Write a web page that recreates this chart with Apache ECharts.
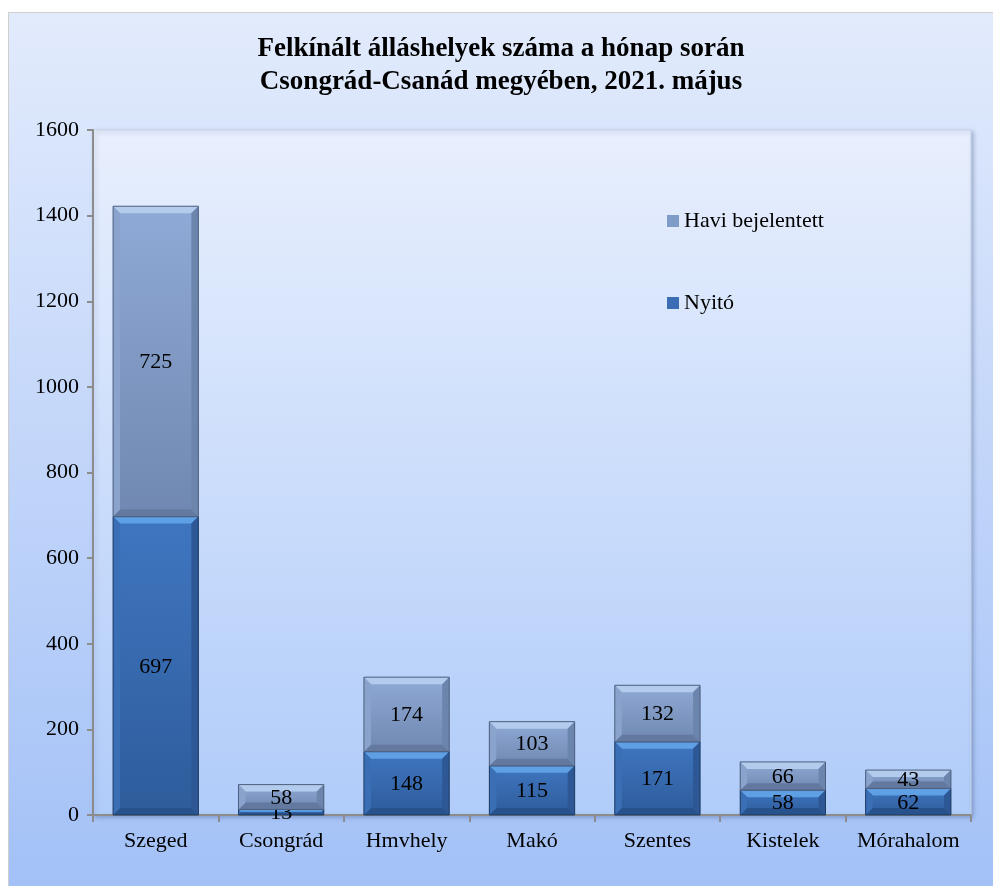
<!DOCTYPE html>
<html>
<head>
<meta charset="utf-8">
<script src="https://cdn.jsdelivr.net/npm/echarts@6/dist/echarts.min.js"></script>
<style>
  html, body { margin: 0; padding: 0; background: #fff; }
  #chart { position: absolute; left: 8px; top: 12px; width: 985px; height: 874px;
           box-sizing: border-box; border: 1px solid #cfcfcf; border-right: none; border-bottom: none; }
</style>
</head>
<body>
<div id="chart"></div>
<script>
// adatok
var categories = ['Szeged', 'Csongrád', 'Hmvhely', 'Makó', 'Szentes', 'Kistelek', 'Mórahalom']
var nyito = [697, 13, 148, 115, 171, 58, 62]
var havi = [725, 58, 174, 103, 132, 66, 43]
var yMin = 0, yMax = 1600, yStep = 200

var font = '"Liberation Serif", "DejaVu Serif", serif'

// szinek a "bevel" hatashoz
var colNyito = { top: '#3f76c0', bottom: '#2e5c9b', hi: '#5f9fe4', lo: '#28528c', left: '#3a6fb6', right: '#2d5895', stroke: '#1f3b63' }
var colHavi = { top: '#8faad6', bottom: '#7088b1', hi: '#b3cbec', lo: '#63799f', left: '#89a3cd', right: '#6c85ad', stroke: '#4d5f7e' }

function makeRender(c) {
  return function (params, api) {
    var i = api.value(0), lo = api.value(1), hi = api.value(2)
    var p0 = api.coord([i, lo]), p1 = api.coord([i, hi])
    var w = api.size([1, 0])[0] * 0.68
    var x = p0[0] - w / 2, y = p1[1], h = p0[1] - p1[1]
    var b = Math.min(7, h / 2.5)
    return {
      type: 'group',
      children: [
        { type: 'rect', shape: { x: x, y: y, width: w, height: h },
          style: { fill: new echarts.graphic.LinearGradient(0, 0, 0, 1, [{ offset: 0, color: c.top }, { offset: 1, color: c.bottom }]) } },
        { type: 'polygon', shape: { points: [[x, y], [x + w, y], [x + w - b, y + b], [x + b, y + b]] }, style: { fill: c.hi } },
        { type: 'polygon', shape: { points: [[x, y + h], [x + w, y + h], [x + w - b, y + h - b], [x + b, y + h - b]] }, style: { fill: c.lo } },
        { type: 'polygon', shape: { points: [[x, y], [x + b, y + b], [x + b, y + h - b], [x, y + h]] }, style: { fill: c.left } },
        { type: 'polygon', shape: { points: [[x + w, y], [x + w - b, y + b], [x + w - b, y + h - b], [x + w, y + h]] }, style: { fill: c.right } },
        { type: 'rect', shape: { x: x, y: y, width: w, height: h }, style: { fill: null, stroke: c.stroke, lineWidth: 1 } },
        { type: 'text', x: p0[0], y: y + h / 2 + 1,
          style: { text: String(hi - lo), fill: '#000', font: '22px ' + font, align: 'center', verticalAlign: 'middle' } }
      ]
    }
  }
}

var nyitoData = nyito.map(function (v, i) { return [i, 0, v] })
var haviData = havi.map(function (v, i) { return [i, nyito[i], nyito[i] + v] })

var myChart = echarts.init(document.getElementById('chart'))
myChart.setOption({
  backgroundColor: new echarts.graphic.LinearGradient(0, 0, 0, 1, [
    { offset: 0, color: '#e2ebfc' }, { offset: 1, color: '#a3c1f7' }
  ]),
  title: {
    text: 'Felkínált álláshelyek száma a hónap során\nCsongrád-Csanád megyében, 2021. május',
    left: 'center', top: 15,
    textStyle: { fontFamily: font, fontWeight: 'bold', fontSize: 27, color: '#000', lineHeight: 33 }
  },
  legend: {
    orient: 'vertical', left: 653, top: 192,
    itemGap: 60, itemWidth: 12, itemHeight: 12, icon: 'rect',
    textStyle: { fontFamily: font, fontSize: 22, color: '#000' },
    data: ['Havi bejelentett', 'Nyitó']
  },
  grid: {
    left: 84, top: 117, right: 22, bottom: 71, show: true,
    backgroundColor: new echarts.graphic.LinearGradient(0, 0, 0, 1, [
      { offset: 0, color: '#e8effd' }, { offset: 1, color: '#b0ccf9' }
    ]),
    borderColor: '#c5d3ea', borderWidth: 1,
    shadowColor: 'rgba(60,80,120,0.35)', shadowBlur: 4, shadowOffsetX: 2, shadowOffsetY: 2
  },
  xAxis: {
    type: 'category', data: categories,
    axisLine: { lineStyle: { color: '#8c8c8c', width: 2 } },
    axisTick: { show: true, length: 7, lineStyle: { color: '#8c8c8c', width: 2 } },
    axisLabel: { fontFamily: font, fontSize: 22, color: '#000', margin: 15, interval: 0 }
  },
  yAxis: {
    type: 'value', min: yMin, max: yMax, interval: yStep,
    axisLine: { show: true, lineStyle: { color: '#8c8c8c', width: 2 } },
    axisTick: { show: true, length: 6, lineStyle: { color: '#8c8c8c', width: 2 } },
    splitLine: { show: false },
    axisLabel: { fontFamily: font, fontSize: 22, color: '#000', margin: 14, formatter: function (v) { return String(v) } }
  },
  series: [
    { name: 'Nyitó', type: 'custom', renderItem: makeRender(colNyito), data: nyitoData,
      encode: { x: 0, y: [1, 2] }, itemStyle: { color: '#3a6db3' } },
    { name: 'Havi bejelentett', type: 'custom', renderItem: makeRender(colHavi), data: haviData,
      encode: { x: 0, y: [1, 2] }, itemStyle: { color: '#7f9bc8' } }
  ]
})
</script>
</body>
</html>
